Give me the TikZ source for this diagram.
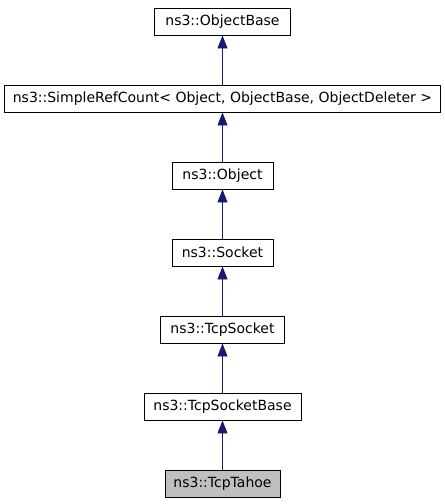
\documentclass[tikz,border=0pt]{standalone}
\usepackage{fontspec}
\setmainfont{DejaVu Sans}
\usetikzlibrary{arrows.meta,positioning}
\definecolor{edgeblue}{HTML}{191970}

\begin{document}
\begin{tikzpicture}[<-,>={Triangle[length=13pt,width=10pt]},node distance=77pt,line width=0.9pt]
\useasboundingbox (0pt,0pt) rectangle (445pt,-504pt);
\tikzstyle{every node}=[draw=black,rectangle,line width=0.9pt,inner sep=0pt,minimum height=27pt,font=\fontsize{14}{16}\selectfont]
\node[minimum width=136pt] (ObjBase) at (222.5pt,-21.5pt) {ns3::ObjectBase};
\node[minimum width=436pt] (RefCount) [below of=ObjBase] {ns3::SimpleRefCount< Object, ObjectBase, ObjectDeleter >};
\node[minimum width=101pt] (Obj) [below of=RefCount] {ns3::Object};
\node[minimum width=101pt] (Sock) [below of=Obj] {ns3::Socket};
\node[minimum width=124pt] (TcpSock) [below of=Sock] {ns3::TcpSocket};
\node[minimum width=157pt] (TcpBase) [below of=TcpSock] {ns3::TcpSocketBase};
\tikzstyle{every node}=[draw=black,fill=black!25,rectangle,line width=0.9pt,inner sep=0pt,minimum height=27pt,font=\fontsize{14}{16}\selectfont]
\node[minimum width=115pt] (Tahoe) [below of=TcpBase] {ns3::TcpTahoe};

\path[color=edgeblue]
(ObjBase) edge (RefCount)
(RefCount) edge (Obj)
(Obj) edge (Sock)
(Sock) edge (TcpSock)
(TcpSock) edge (TcpBase)
(TcpBase) edge (Tahoe)
;
\end{tikzpicture}
\end{document}
